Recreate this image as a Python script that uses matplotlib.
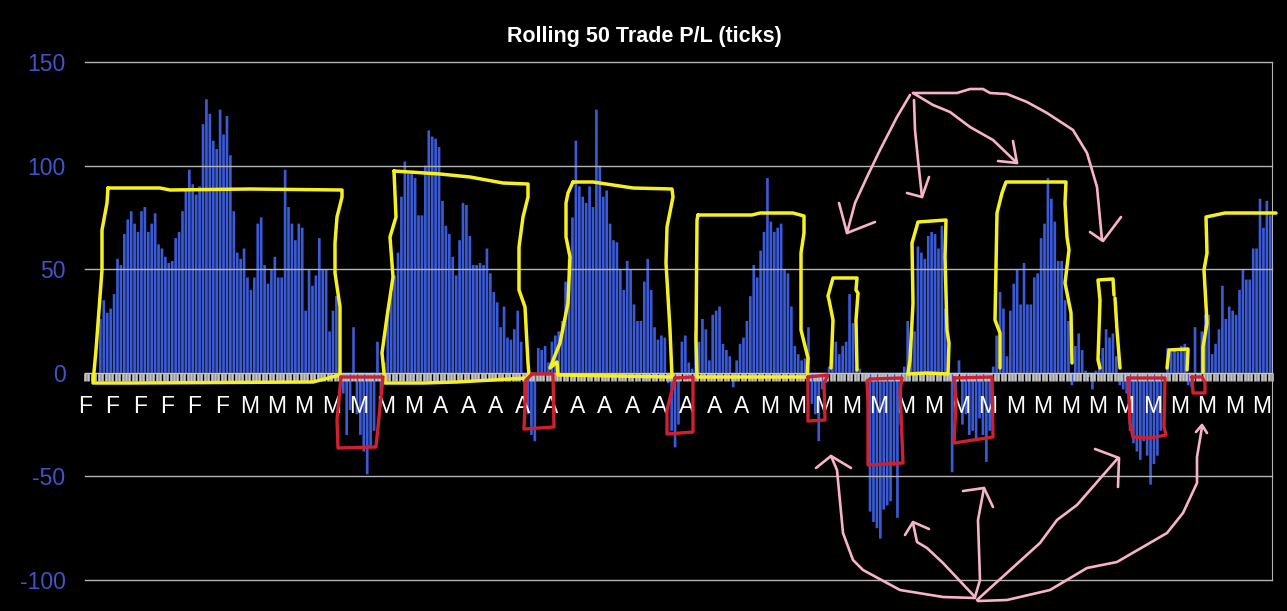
import numpy as np
import matplotlib
matplotlib.use('Agg')
import matplotlib.pyplot as plt
from matplotlib.transforms import Affine2D

# rolling P/L, one row per month label on the x axis (8 trades per label)
pl_ticks = [
    0, 0, 0, 0, 26, 35, 29, 31,
    38, 55, 52, 67, 74, 78, 72, 68,
    78, 80, 68, 72, 77, 62, 60, 56,
    53, 54, 65, 68, 78, 88, 98, 91,
    86, 90, 120, 132, 125, 112, 108, 127,
    115, 124, 105, 78, 58, 55, 60, 46,
    40, 46, 72, 75, 52, 43, 50, 56,
    46, 46, 98, 80, 72, 64, 72, 70,
    30, 50, 42, 47, 65, 50, 50, 20,
    30, 37, 2, -10, -30, -18, 22, -20,
    -30, -38, -49, -36, -28, 15, -10, 5,
    31, 38, 47, 58, 85, 102, 96, 96,
    94, 76, 76, 100, 117, 114, 113, 109,
    83, 71, 67, 56, 47, 64, 82, 81,
    66, 52, 52, 53, 52, 60, 48, 39,
    34, 22, 32, 17, 16, 21, 30, 15,
    -15, -20, -30, -33, 12, 11, 13, 5,
    15, 18, 20, 25, 44, 55, 75, 112,
    90, 85, 82, 90, 80, 127, 100, 85,
    88, 72, 64, 63, 50, 40, 54, 50,
    33, 25, 25, 44, 55, 40, 22, 16,
    18, 17, -5, -28, -36, -25, 15, 18,
    5, 2, 20, 15, 26, 21, 6, 28,
    30, 32, 14, 11, 8, -7, 6, 14,
    17, 25, 37, 52, 46, 59, 68, 94,
    73, 68, 70, 72, 50, 48, 32, 13,
    9, 6, 7, 22, -15, -20, -33, -8,
    -5, 3, 17, 15, 9, 13, 15, 38,
    24, 3, 2, -1, -5, -67, -72, -75,
    -80, -66, -64, -62, -45, -70, -25, 3,
    25, 22, 20, 61, 58, 55, 66, 68,
    67, 60, 71, 31, -3, -48, -20, 6,
    -25, -20, -30, -28, -33, -22, -30, -43,
    -28, 3, 18, 39, 31, 8, 30, 43,
    50, 33, 53, 33, 33, 46, 48, 65,
    72, 94, 84, 73, 54, 54, 35, 25,
    -6, 13, 19, 11, 1, -2, -8, 1,
    7, 12, 21, 17, 19, 8, -6, -8,
    -10, -28, -34, -38, -42, -33, -40, -54,
    -44, -40, -28, -3, 12, 10, 11, 10,
    13, 14, -6, -7, 22, -4, 20, 28,
    28, 9, 14, 21, 42, 26, 32, 30,
    28, 40, 50, 45, 45, 60, 60, 84,
    70, 83, 76,
]
month_labels = list('FFFFFF' + 'MMMMMMM' + 'AAAAAAAAAAAA' + 'M' * 19)
y_ticks = [-100, -50, 0, 50, 100, 150]

# hand drawn marks on top of the chart, in image pixels
yellow_strokes = [
    [(108, 188), (160, 188), (170, 190), (250, 189), (342, 190), (342, 197), (337, 217), (335, 243), (335, 273),
     (340, 307), (340, 375), (313, 382), (130, 383), (93, 383), (96, 350), (102, 270), (102, 230), (107, 203), (108, 188)],
    [(394, 171), (440, 174), (470, 177), (503, 183), (528, 184), (528, 197), (523, 217), (519, 247), (519, 290),
     (525, 307), (528, 363), (529, 375), (527, 378), (457, 382), (423, 383), (385, 383), (382, 353), (387, 317),
     (393, 277), (390, 237), (396, 217), (394, 171)],
    [(573, 182), (593, 182), (633, 188), (672, 189), (673, 197), (667, 227), (666, 263), (670, 330), (672, 377),
     (558, 375), (557, 362), (550, 368), (560, 343), (568, 303), (570, 257), (566, 237), (566, 203), (568, 193), (573, 182)],
    [(698, 215), (752, 215), (760, 213), (793, 213), (804, 216), (804, 233), (801, 253), (801, 330), (808, 358),
     (807, 377), (730, 377), (697, 377), (696, 340), (697, 220), (698, 215)],
    [(831, 368), (833, 320), (829, 300), (828, 296), (833, 278), (857, 278), (856, 290), (858, 293), (856, 320), (857, 370)],
    [(908, 373), (910, 360), (913, 303), (912, 243), (918, 222), (946, 220), (945, 257), (947, 330), (949, 343),
     (948, 374), (927, 373), (908, 374)],
    [(1000, 368), (1000, 333), (995, 320), (997, 213), (1002, 193), (1006, 182), (1066, 182), (1065, 203), (1067, 237),
     (1069, 250), (1065, 283), (1071, 313), (1072, 363)],
    [(1100, 368), (1098, 360), (1100, 300), (1098, 280), (1113, 279), (1114, 295)],
    [(1115, 298), (1117, 330), (1120, 368)],
    [(1167, 368), (1169, 350), (1188, 349), (1187, 370)],
    [(1203, 372), (1203, 347), (1207, 323), (1204, 270), (1207, 253), (1206, 217), (1225, 213), (1276, 213)],
]
red_strokes = [
    [(341, 377), (383, 377), (376, 447), (338, 448), (337, 420), (341, 377)],
    [(532, 374), (553, 374), (554, 427), (524, 429), (526, 380), (532, 374)],
    [(675, 378), (693, 377), (693, 432), (667, 434), (667, 410), (675, 378)],
    [(808, 377), (828, 375), (824, 383), (825, 420), (808, 421), (808, 377)],
    [(870, 379), (902, 378), (900, 390), (903, 463), (868, 465), (868, 403), (867, 381), (870, 379)],
    [(954, 378), (992, 377), (993, 437), (954, 443), (956, 403), (954, 378)],
    [(1128, 378), (1165, 378), (1164, 427), (1166, 435), (1150, 438), (1133, 437), (1130, 423), (1128, 378)],
    [(1192, 377), (1202, 377), (1205, 383), (1205, 393), (1193, 393), (1192, 377)],
]
pink_strokes = [
    # top group
    [(910, 95), (897, 117), (880, 150), (867, 177), (855, 203), (847, 233)],
    [(839, 203), (847, 233), (875, 222)],
    [(914, 100), (915, 130), (918, 160), (922, 197)],
    [(907, 193), (922, 197), (929, 177)],
    [(913, 93), (933, 105), (950, 112), (970, 127), (993, 140), (1017, 163)],
    [(998, 161), (1017, 163), (1013, 141)],
    [(913, 93), (957, 93), (970, 89), (983, 89), (990, 93), (1007, 94), (1027, 102), (1047, 113), (1073, 130),
     (1087, 153), (1097, 187), (1102, 240)],
    [(1090, 232), (1103, 241), (1121, 217)],
    # bottom group
    [(975, 598), (943, 597), (900, 590), (863, 570), (853, 560), (843, 533), (837, 470), (831, 456)],
    [(816, 468), (831, 456), (851, 468)],
    [(975, 597), (943, 563), (927, 548), (917, 542), (913, 523)],
    [(905, 535), (913, 522), (929, 529)],
    [(975, 597), (980, 580), (978, 520), (984, 488)],
    [(963, 491), (984, 488), (993, 507)],
    [(977, 600), (1040, 543), (1057, 520), (1077, 505), (1118, 458)],
    [(1095, 449), (1119, 458), (1118, 487)],
    [(978, 601), (1007, 600), (1050, 590), (1087, 568), (1117, 562), (1167, 533), (1183, 513), (1197, 483),
     (1197, 457), (1202, 427)],
    [(1196, 432), (1202, 425), (1207, 433)],
]

W, H = 1287, 611
plt.rcParams['font.family'] = ['Liberation Sans', 'DejaVu Sans']
plt.rcParams['axes.unicode_minus'] = False

fig = plt.figure(figsize=(W / 100, H / 100), dpi=100, facecolor='black')
ax = fig.add_axes([85 / W, 1 - 580 / H, (1272 - 85) / W, (580 - 62) / H], facecolor='black')

x = np.arange(len(pl_ticks)) + 0.5
bars = ax.bar(x, pl_ticks, width=0.78, color='#3a5ad6', linewidth=0)
for b in bars:
    b.set_snap(False)

ax.set_xlim(0, len(pl_ticks))
ax.set_ylim(-100, 150)
ax.set_yticks(y_ticks)
ax.yaxis.grid(True, color='#b4b4b4', linewidth=1.0)
for g in ax.get_ygridlines():
    g.set_clip_on(False)
ax.tick_params(axis='y', length=0, labelsize=16.5, labelcolor='#3f55c8', pad=14)

# the grey strip under zero is just one tick per trade
ax.spines['bottom'].set_position(('data', 0))
ax.spines['bottom'].set_color('#c8c8c8')
ax.spines['right'].set_color('#b4b4b4')
ax.spines['left'].set_visible(False)
ax.spines['top'].set_visible(False)
ax.set_xticks(np.arange(0, len(pl_ticks) + 1), minor=True)
ax.set_xticks(np.arange(len(month_labels)) * 8)
ax.set_xticklabels(month_labels)
ax.tick_params(axis='x', which='both', length=5.8, width=1.9, color='#c4c4c4')
ax.tick_params(axis='x', which='major', labelsize=16.5, labelcolor='white', pad=10)
for t in ax.xaxis.get_major_ticks() + ax.xaxis.get_minor_ticks():
    t.tick1line.set_snap(False)

fig.text(644 / W, 1 - 36.5 / H, 'Rolling 50 Trade P/L (ticks)', color='white', fontsize=15.5,
         fontweight='bold', ha='center', va='center')

# pixel coordinates -> figure
px = Affine2D().scale(1 / W, -1 / H).translate(0, 1) + fig.transFigure


def draw_strokes(strokes, color, lw):
    for s in strokes:
        xs, ys = zip(*s)
        fig.add_artist(plt.Line2D(xs, ys, transform=px, color=color, linewidth=lw,
                                  solid_capstyle='round', solid_joinstyle='round'))


draw_strokes(yellow_strokes, '#f6f01e', 2.5)
draw_strokes(red_strokes, '#d0202e', 2.4)
draw_strokes(pink_strokes, '#f7b4c8', 1.9)

fig.savefig('out.png', dpi=100, facecolor='black')
